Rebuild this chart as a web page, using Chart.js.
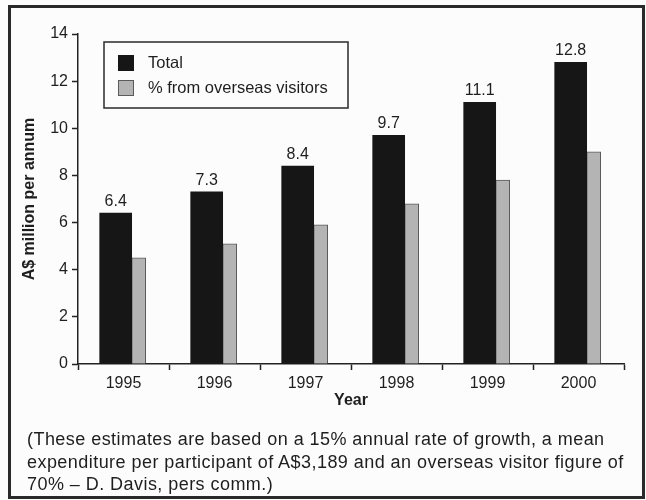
<!DOCTYPE html>
<html lang="en">
  <head>
    <meta charset="UTF-8" />
    <title>A$ million per annum</title>
    <style>
      body { margin: 0; background: #fcfcfc; }
      .wrap { position: relative; width: 646px; height: 500px; }
      .frame {
        position: absolute; left: 8px; top: 5px; width: 631px; height: 488px;
        border: 3px solid #2a2a2a;
      }
      canvas { position: absolute; left: 0; top: 0; }
      .note {
        position: absolute; left: 27px; top: 428px;
        font: 18px "Liberation Sans", Arial, sans-serif; line-height: 22.5px;
        letter-spacing: 0.45px; color: #1e1e1e; white-space: nowrap;
      }
    </style>
    <script src="https://cdn.jsdelivr.net/npm/chart.js"></script>
  </head>

  <body>
    <div class="wrap">
      <canvas id="myChart" width="646" height="500"></canvas>
      <div class="frame"></div>
      <div class="note">
        (These estimates are based on a 15% annual rate of growth, a mean<br>
        expenditure per participant of A$3,189 and an overseas visitor figure of<br>
        70% – D. Davis, pers comm.)
      </div>
    </div>

    <script>
      const years = [1995, 1996, 1997, 1998, 1999, 2000];
      const totalValues = [6.4, 7.3, 8.4, 9.7, 11.1, 12.8];
      const overseasValues = [4.5, 5.1, 5.9, 6.8, 7.8, 9.0];
      const yTicks = [0, 2, 4, 6, 8, 10, 12, 14];

      const FONT = "'Liberation Sans', Arial, sans-serif";
      const INK = "#1e1e1e";

      // value labels over the black bars
      const barLabels = {
        id: "barLabels",
        afterDatasetsDraw(chart) {
          const black = chart.getDatasetMeta(0).data;
          const ctx = chart.ctx;
          ctx.save();
          ctx.font = "16px " + FONT;
          ctx.fillStyle = INK;
          ctx.textAlign = "center";
          ctx.textBaseline = "alphabetic";
          black.forEach((bar, i) => {
            ctx.fillText(totalValues[i].toFixed(1), bar.x, bar.y - 7);
          });
          ctx.restore();
        }
      };

      // boxed legend inside the plot
      const boxLegend = {
        id: "boxLegend",
        afterDraw(chart) {
          const area = chart.chartArea;
          const ctx = chart.ctx;
          const x = area.left + 26;
          const y = area.top + 8;
          ctx.save();
          ctx.fillStyle = "#fcfcfc";
          ctx.fillRect(x, y, 244, 66);
          ctx.strokeStyle = "#2a2a2a";
          ctx.lineWidth = 1.5;
          ctx.strokeRect(x, y, 244, 66);
          ctx.font = "16.5px " + FONT;
          ctx.textBaseline = "middle";
          chart.data.datasets.forEach((ds, i) => {
            const rowY = y + 13 + i * 25;
            ctx.fillStyle = ds.backgroundColor;
            ctx.fillRect(x + 14, rowY, 16, 16);
            ctx.strokeStyle = ds.borderColor;
            ctx.lineWidth = 1;
            ctx.strokeRect(x + 14.5, rowY + 0.5, 15, 15);
            ctx.fillStyle = INK;
            ctx.fillText(ds.label, x + 44, rowY + 8);
          });
          ctx.restore();
        }
      };

      const barShift = 0.09;

      new Chart(document.getElementById("myChart"), {
        type: "bar",
        data: {
          labels: years,
          datasets: [
            {
              label: "Total",
              data: totalValues,
              xAxisID: "xs",
              backgroundColor: "#161616",
              borderColor: "#161616",
              borderWidth: 0,
              barThickness: 32
            },
            {
              label: "% from overseas visitors",
              data: overseasValues,
              xAxisID: "xs",
              backgroundColor: "#b4b4b4",
              borderColor: "#5a5a5a",
              borderWidth: 1,
              barThickness: 14
            }
          ]
        },
        options: {
          responsive: false,
          animation: false,
          devicePixelRatio: 1,
          layout: { padding: { left: 20, right: 22, top: 34, bottom: 90 } },
          plugins: {
            legend: { display: false },
            tooltip: { enabled: false }
          },
          scales: {
            xs: {
              type: "linear",
              axis: "x",
              display: false,
              offset: false,
              min: years[0] - 0.5 - barShift,
              max: years[years.length - 1] + 0.5 - barShift
            },
            x: {
              type: "category",
              offset: true,
              grid: {
                offset: true,
                drawOnChartArea: false,
                tickLength: 6,
                tickColor: "#222",
                tickWidth: 1.5
              },
              border: { color: "#222", width: 1.5 },
              ticks: { font: { family: FONT, size: 16 }, color: INK, padding: 4 },
              title: {
                display: true,
                text: "Year",
                font: { family: FONT, size: 16, weight: "bold" },
                color: INK,
                padding: 0
              },
              afterFit: (s) => { s.height = 46; }
            },
            y: {
              min: 0,
              max: 14,
              afterBuildTicks: (s) => { s.ticks = yTicks.map(v => ({ value: v })); },
              grid: {
                drawOnChartArea: false,
                tickLength: 6,
                tickColor: "#222",
                tickWidth: 1.5
              },
              border: { color: "#222", width: 1.5 },
              ticks: { font: { family: FONT, size: 16 }, color: INK, padding: 4 },
              title: {
                display: true,
                text: "A$ million per annum",
                font: { family: FONT, size: 16, weight: "bold" },
                color: INK,
                padding: 0
              },
              afterFit: (s) => { s.width = 58; }
            }
          }
        },
        plugins: [barLabels, boxLegend]
      });
    </script>
  </body>
</html>
